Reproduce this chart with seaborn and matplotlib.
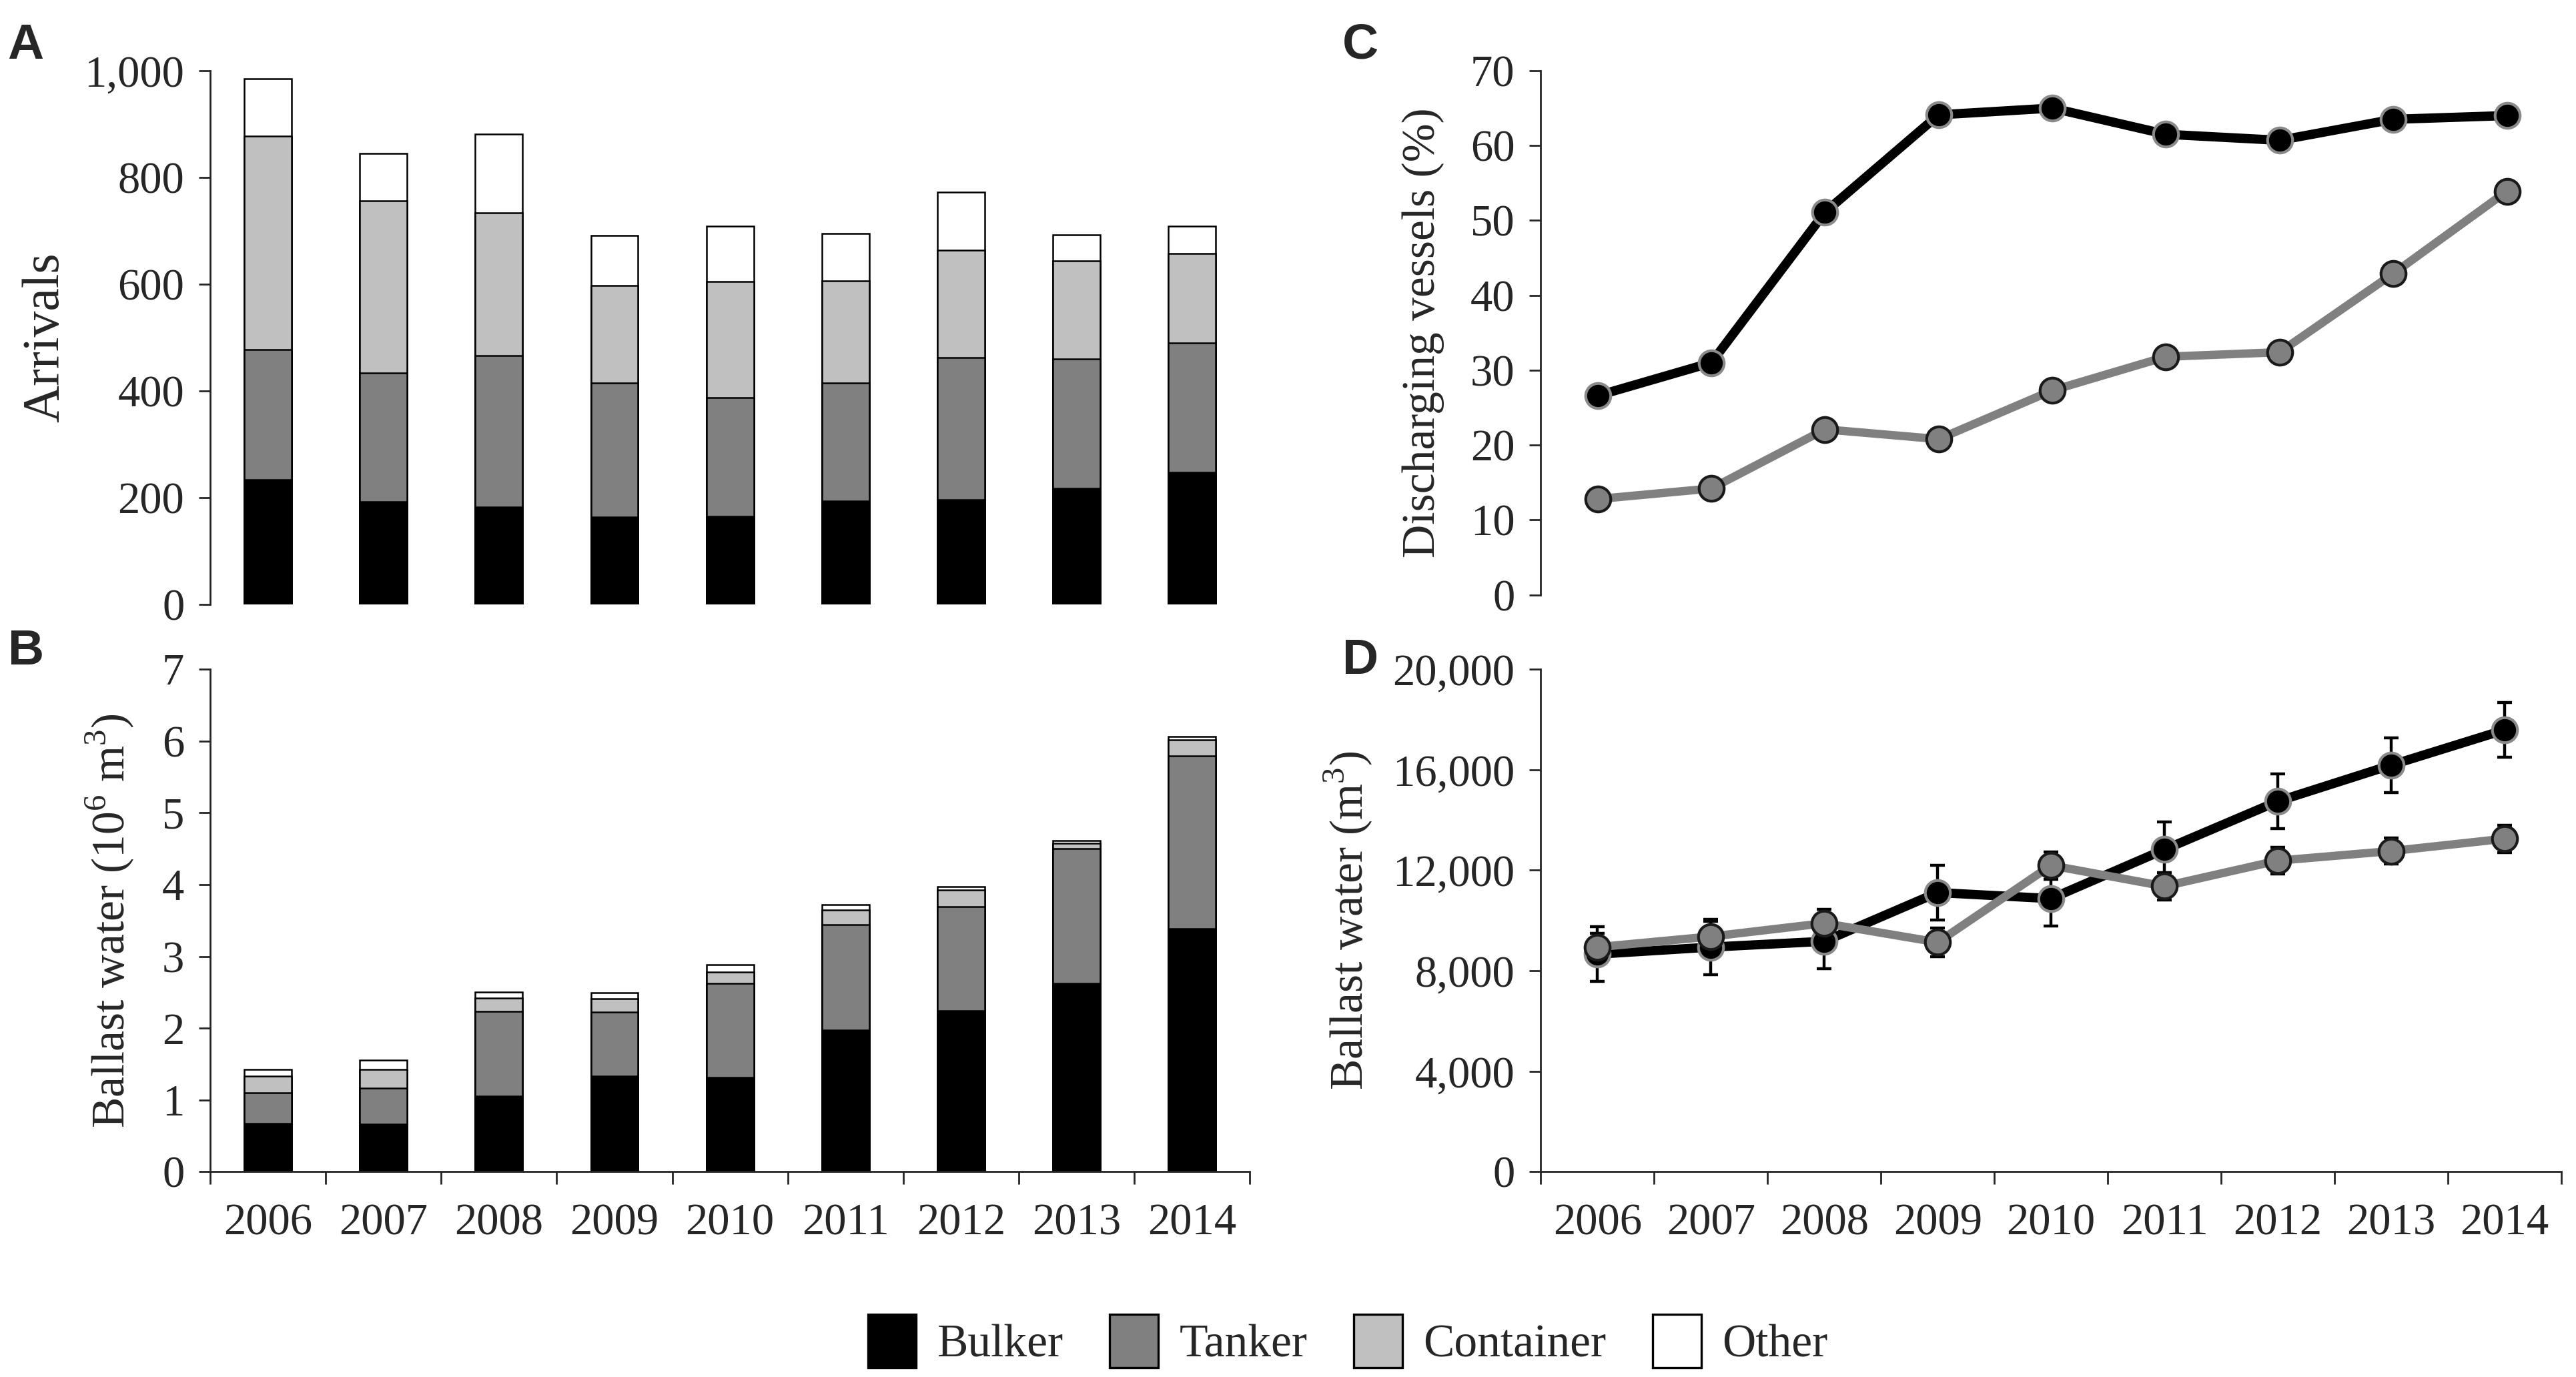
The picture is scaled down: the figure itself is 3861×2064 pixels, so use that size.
import numpy as np
import pandas as pd
import matplotlib
matplotlib.use("Agg")
import matplotlib.pyplot as plt
from matplotlib.patches import Patch
from matplotlib.ticker import FuncFormatter, FixedLocator
import seaborn as sns

sns.set_style("ticks")
plt.rcParams['font.family'] = ['Liberation Serif', 'DejaVu Serif']
plt.rcParams['mathtext.fontset'] = 'custom'
plt.rcParams['mathtext.rm'] = 'Liberation Serif'

years = ['2006', '2007', '2008', '2009', '2010', '2011', '2012', '2013', '2014']

# A: arrivals per vessel type
arr_bulker = [234, 192, 183, 164, 165, 194, 196, 217, 248]
arr_tanker = [243, 242, 283, 251, 222, 221, 267, 243, 242]
arr_container = [400, 322, 268, 183, 218, 191, 201, 184, 167]
arr_other = [108, 89, 147, 93, 104, 89, 109, 48, 52]

# B: ballast water (10^6 m3) per vessel type
bw_bulker = [0.67, 0.66, 1.05, 1.33, 1.31, 1.97, 2.24, 2.62, 3.39]
bw_tanker = [0.43, 0.51, 1.18, 0.89, 1.31, 1.47, 1.45, 1.88, 2.40]
bw_container = [0.23, 0.26, 0.19, 0.19, 0.16, 0.21, 0.23, 0.07, 0.22]
bw_other = [0.10, 0.13, 0.08, 0.08, 0.10, 0.07, 0.05, 0.04, 0.05]

# C: discharging vessels (%)
pct_bulker = [26.6, 31.0, 51.1, 64.1, 65.0, 61.5, 60.7, 63.5, 64.0]
pct_tanker = [12.8, 14.2, 22.1, 20.8, 27.3, 31.8, 32.4, 42.9, 53.9]

# D: mean ballast water per discharge (m3) with error
vol_bulker = [8660, 8940, 9170, 11110, 10870, 12820, 14740, 16180, 17580]
vol_bulker_err = [1090, 1100, 1100, 1080, 1080, 1100, 1080, 1090, 1080]
vol_tanker = [8940, 9360, 9890, 9130, 12190, 11360, 12380, 12760, 13250]
vol_tanker_err = [560, 600, 550, 560, 540, 550, 540, 520, 550]

type_names = ['Bulker', 'Tanker', 'Container', 'Other']
type_colors = ['#000000', '#808080', '#c0c0c0', '#ffffff']

FS = 24
LFS = 25
comma = FuncFormatter(lambda v, p: f'{int(v):,}')

fig = plt.figure(figsize=(19.31, 10.32), dpi=200)
axA = fig.add_axes([0.0816, 0.561, 0.4034, 0.3877])
axB = fig.add_axes([0.0816, 0.149, 0.4034, 0.3651])
axC = fig.add_axes([0.598, 0.568, 0.397, 0.3807])
axD = fig.add_axes([0.598, 0.149, 0.396, 0.3651])


def stacked(ax, parts):
    # draw cumulative totals from the top down so each layer shows
    cum = np.cumsum(np.array(parts, dtype=float), axis=0)
    for i in range(len(parts) - 1, -1, -1):
        sns.barplot(x=years, y=cum[i], order=years, color=type_colors[i],
                    width=0.41, edgecolor='black', linewidth=0.9,
                    errorbar=None, saturation=1, ax=ax)


def style_y(ax):
    ax.tick_params(axis='y', direction='out', length=6, width=1, pad=8,
                   labelsize=FS)
    ax.spines['left'].set_linewidth(1)
    sns.despine(ax=ax)


def cat_xaxis(ax, show):
    ax.set_xlim(-0.5, 8.5)
    ax.xaxis.set_major_locator(FixedLocator(range(len(years))))
    if show:
        ax.set_xticklabels(years)
        ax.xaxis.set_minor_locator(FixedLocator(np.arange(-0.5, 9, 1)))
        ax.tick_params(axis='x', which='major', length=0, pad=17, labelsize=FS)
        ax.tick_params(axis='x', which='minor', direction='out', length=7,
                       width=1)
        ax.spines['bottom'].set_linewidth(1)
    else:
        ax.tick_params(axis='x', which='both', length=0, labelbottom=False)
        ax.spines['bottom'].set_visible(False)
    ax.set_xlabel('')


# A
stacked(axA, [arr_bulker, arr_tanker, arr_container, arr_other])
axA.set_ylim(0, 1000)
axA.set_yticks(range(0, 1001, 200))
axA.yaxis.set_major_formatter(comma)
axA.set_ylabel('Arrivals', fontsize=LFS + 3, labelpad=8)
style_y(axA)
cat_xaxis(axA, False)

# B
stacked(axB, [bw_bulker, bw_tanker, bw_container, bw_other])
axB.set_ylim(0, 7)
axB.set_yticks(range(0, 8))
axB.set_ylabel(r'Ballast water (10$^{\mathregular{6}}$ m$^{\mathregular{3}}$)',
               fontsize=LFS, labelpad=14)
style_y(axB)
cat_xaxis(axB, True)


def two_lines(ax, black_vals, gray_vals, black_err=None, gray_err=None):
    pos = np.arange(len(years))
    if black_err is not None:
        ax.errorbar(pos, black_vals, yerr=black_err, fmt='none', ecolor='black',
                    elinewidth=1.6, capsize=4, capthick=1.6, zorder=2)
        ax.errorbar(pos, gray_vals, yerr=gray_err, fmt='none', ecolor='black',
                    elinewidth=1.6, capsize=4, capthick=1.6, zorder=2)
    df_b = pd.DataFrame({'pos': pos, 'value': black_vals})
    df_g = pd.DataFrame({'pos': pos, 'value': gray_vals})
    sns.lineplot(data=df_b, x='pos', y='value', ax=ax, color='black',
                 linewidth=5, marker='o', markersize=13.5,
                 markerfacecolor='black', markeredgecolor='#8a8a8a',
                 markeredgewidth=1.5, errorbar=None, zorder=3)
    sns.lineplot(data=df_g, x='pos', y='value', ax=ax, color='#808080',
                 linewidth=4.5, marker='o', markersize=13.5,
                 markerfacecolor='#808080', markeredgecolor='#1a1a1a',
                 markeredgewidth=1.5, errorbar=None, zorder=4)


# C
two_lines(axC, pct_bulker, pct_tanker)
axC.set_ylim(0, 70)
axC.set_yticks(range(0, 71, 10))
axC.set_ylabel('Discharging vessels (%)', fontsize=LFS, labelpad=14)
style_y(axC)
cat_xaxis(axC, False)

# D
two_lines(axD, vol_bulker, vol_tanker, vol_bulker_err, vol_tanker_err)
axD.set_ylim(0, 20000)
axD.set_yticks(range(0, 20001, 4000))
axD.yaxis.set_major_formatter(comma)
axD.set_ylabel(r'Ballast water (m$^{\mathregular{3}}$)', fontsize=LFS,
               labelpad=10)
style_y(axD)
cat_xaxis(axD, True)

# panel letters
for lbl, x, y in [('A', 0.003, 0.967), ('B', 0.003, 0.527),
                  ('C', 0.521, 0.967), ('D', 0.521, 0.52)]:
    fig.text(x, y, lbl, fontsize=27, fontweight='bold',
             family=['Liberation Sans', 'DejaVu Sans'], va='center')

handles = [Patch(facecolor=c, edgecolor='black', linewidth=1.2)
           for c in type_colors]
fig.legend(handles, type_names, loc='center', bbox_to_anchor=(0.523, 0.026),
           ncol=4, frameon=False, fontsize=LFS, handlelength=1.05,
           handleheight=1.4, handletextpad=0.45, columnspacing=1.0)

fig.savefig('out.png', dpi=200, facecolor='white')
